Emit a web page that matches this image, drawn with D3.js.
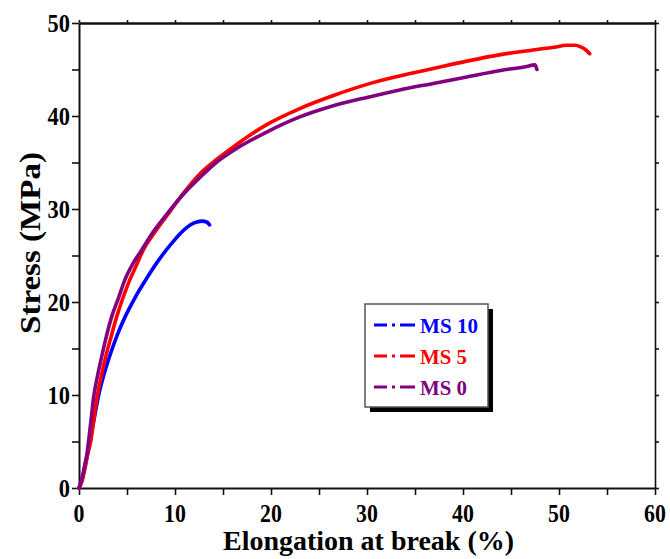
<!DOCTYPE html>
<html>
<head>
<meta charset="utf-8">
<script src="https://cdn.jsdelivr.net/npm/d3@7"></script>
<style>
  html, body { margin: 0; padding: 0; background: #fff; }
  svg { display: block; }
  text { font-family: "Liberation Serif", "Times New Roman", serif; font-weight: bold; }
</style>
</head>
<body>
<svg id="chart" width="670" height="559"></svg>
<script>
// ---- data ----
const seriesNames = ["MS 10", "MS 5", "MS 0"];
const seriesColors = ["#0000ff", "#ff0000", "#800080"];

const ms10X = [0, 0.3, 0.6, 0.97, 1.5, 2.05, 2.6, 3.3, 4.0, 4.8, 5.8, 6.9, 8.3, 9.65, 11.0, 12.0, 12.8, 13.3, 13.6];
const ms10Y = [0, 0.8, 2.2, 4.1, 7.0, 10.0, 12.2, 14.5, 16.5, 18.4, 20.4, 22.3, 24.5, 26.3, 27.8, 28.5, 28.7, 28.6, 28.3];

const ms5X = [0, 0.3, 0.6, 0.9, 1.25, 1.55, 1.84, 2.3, 2.78, 3.35, 3.92, 4.6, 5.3, 6.0, 6.7, 7.9, 9.1, 10.8, 12.6, 14.3, 16.1, 19.6, 23.0, 26.5, 30.0, 33.4, 36.9, 40.4, 43.9, 47.3, 49.5, 50.8, 51.7, 52.3, 52.8, 53.2];
const ms5Y = [0, 0.7, 2.0, 3.6, 5.2, 7.4, 9.5, 11.9, 14.1, 16.3, 18.4, 20.5, 22.4, 24.0, 25.6, 27.5, 29.2, 31.6, 33.8, 35.3, 36.7, 39.1, 40.8, 42.2, 43.4, 44.3, 45.1, 45.9, 46.6, 47.1, 47.4, 47.6, 47.6, 47.4, 47.1, 46.7];

const ms0X = [0, 0.3, 0.6, 0.85, 1.05, 1.3, 1.5, 1.9, 2.36, 2.85, 3.4, 4.1, 4.79, 5.6, 6.53, 7.7, 8.96, 10.7, 12.6, 14.3, 16.1, 19.6, 23.0, 26.5, 30.0, 33.4, 36.9, 40.4, 43.9, 46.5, 47.5, 47.7];
const ms0Y = [0, 1.0, 2.5, 3.8, 5.5, 7.7, 9.6, 11.9, 14.1, 16.3, 18.4, 20.4, 22.4, 24.1, 25.6, 27.5, 29.2, 31.4, 33.4, 35.0, 36.3, 38.3, 39.9, 41.1, 42.0, 42.8, 43.5, 44.2, 44.9, 45.3, 45.5, 45.0];

const xTickLabels = ["0", "10", "20", "30", "40", "50", "60"];
const yTickLabels = ["0", "10", "20", "30", "40", "50"];
const xMinorTicks = [5, 15, 25, 35, 45, 55];
const yMinorTicks = [5, 15, 25, 35, 45];

const xTitle = "Elongation at break (%)";
const yTitle = "Stress (MPa)";

// ---- layout ----
const L = 79, R = 655, T = 23, B = 488;
const svg = d3.select("#chart");
const x = d3.scaleLinear().domain([0, 60]).range([L, R]);
const y = d3.scaleLinear().domain([0, 50]).range([B, T]);

const xMajor = xTickLabels.map(Number), yMajor = yTickLabels.map(Number);

function styleAxis(g, w) {
  g.selectAll("path.domain").attr("stroke", "#111").attr("stroke-width", w);
  g.selectAll(".tick line").attr("stroke", "#111").attr("stroke-width", 1.6);
}

// bottom
svg.append("g").attr("transform", `translate(0,${B})`)
  .call(d3.axisBottom(x).tickValues(xMajor.concat(xMinorTicks)).tickSize(7).tickSizeOuter(0).tickFormat(""))
  .call(g => styleAxis(g, 2));
// top
svg.append("g").attr("transform", `translate(0,${T})`)
  .call(d3.axisTop(x).tickValues(xMajor.concat(xMinorTicks)).tickSize(3).tickSizeOuter(0).tickFormat(""))
  .call(g => styleAxis(g, 2.4));
// left
svg.append("g").attr("transform", `translate(${L},0)`)
  .call(d3.axisLeft(y).tickValues(yMajor.concat(yMinorTicks)).tickSize(7).tickSizeOuter(0).tickFormat(""))
  .call(g => styleAxis(g, 2));
// right
svg.append("g").attr("transform", `translate(${R},0)`)
  .call(d3.axisRight(y).tickValues(yMajor.concat(yMinorTicks)).tickSize(4).tickSizeOuter(0).tickFormat(""))
  .call(g => styleAxis(g, 1.6));

// tick labels
svg.append("g").selectAll("text").data(xTickLabels).join("text")
  .attr("x", d => x(+d)).attr("y", 521.5)
  .attr("text-anchor", "middle")
  .attr("font-size", 25)
  .attr("textLength", d => d.length * 10.9).attr("lengthAdjust", "spacingAndGlyphs")
  .attr("fill", "#000").text(d => d);

svg.append("g").selectAll("text").data(yTickLabels).join("text")
  .attr("x", 70).attr("y", d => y(+d) + 8.5)
  .attr("text-anchor", "end")
  .attr("font-size", 25)
  .attr("textLength", d => d.length * 11.2).attr("lengthAdjust", "spacingAndGlyphs")
  .attr("fill", "#000").text(d => d);

// axis titles
svg.append("text")
  .attr("x", 223).attr("y", 550)
  .attr("font-size", 28)
  .attr("textLength", 291).attr("lengthAdjust", "spacingAndGlyphs")
  .attr("fill", "#000").text(xTitle);

svg.append("text")
  .attr("transform", `translate(40,${334}) rotate(-90)`)
  .attr("font-size", 30)
  .attr("textLength", 182).attr("lengthAdjust", "spacingAndGlyphs")
  .attr("fill", "#000").text(yTitle);

// curves
const series = [
  { name: seriesNames[0], color: seriesColors[0], xs: ms10X, ys: ms10Y },
  { name: seriesNames[1], color: seriesColors[1], xs: ms5X, ys: ms5Y },
  { name: seriesNames[2], color: seriesColors[2], xs: ms0X, ys: ms0Y }
];
const line = d3.line().x(d => x(d[0])).y(d => y(d[1])).curve(d3.curveMonotoneX);
svg.append("g").selectAll("path").data(series).join("path")
  .attr("d", s => line(s.xs.map((v, i) => [v, s.ys[i]])))
  .attr("fill", "none")
  .attr("stroke", s => s.color)
  .attr("stroke-width", 3.6)
  .attr("stroke-linecap", "round")
  .attr("stroke-linejoin", "round");

// legend
const lg = svg.append("g");
lg.append("rect").attr("x", 370).attr("y", 309).attr("width", 123).attr("height", 103).attr("fill", "#000");
lg.append("rect").attr("x", 365).attr("y", 304).attr("width", 123).attr("height", 103)
  .attr("fill", "#fff").attr("stroke", "#555").attr("stroke-width", 1.5);
const rowY = [325, 356, 387];
const textLen = [58, 47, 47];
series.forEach((s, i) => {
  lg.append("line").attr("x1", 374).attr("x2", 415).attr("y1", rowY[i]).attr("y2", rowY[i])
    .attr("stroke", s.color).attr("stroke-width", 3)
    .attr("stroke-dasharray", "13,5,3,5,15");
  lg.append("text").attr("x", 420).attr("y", rowY[i] + 8)
    .attr("font-size", 22)
    .attr("textLength", textLen[i]).attr("lengthAdjust", "spacingAndGlyphs")
    .attr("fill", s.color).text(s.name);
});
</script>
</body>
</html>
